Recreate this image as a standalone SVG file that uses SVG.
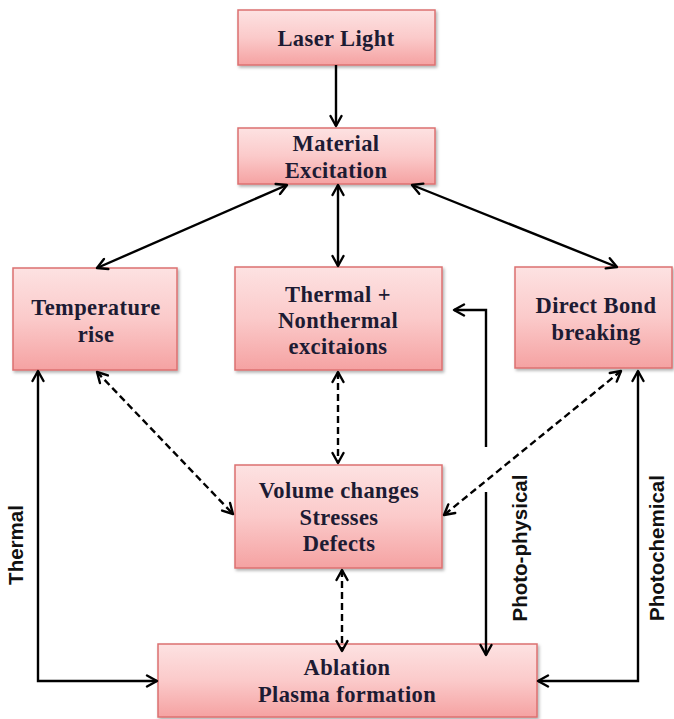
<svg xmlns="http://www.w3.org/2000/svg" width="674" height="719" viewBox="0 0 674 719">
  <defs>
    <linearGradient id="boxFill" x1="0" y1="0" x2="0" y2="1">
      <stop offset="0" stop-color="#fde2e2"/>
      <stop offset="0.5" stop-color="#fbcaca"/>
      <stop offset="1" stop-color="#f5a2a2"/>
    </linearGradient>
    <filter id="shadow" x="-10%" y="-10%" width="125%" height="130%">
      <feDropShadow dx="1.5" dy="2" stdDeviation="1.5" flood-color="#000" flood-opacity="0.3"/>
    </filter>
    <marker id="arr" viewBox="0 0 14 14" refX="12" refY="7" markerWidth="14" markerHeight="14" markerUnits="userSpaceOnUse" orient="auto-start-reverse">
      <path d="M2,1.5 L12,7 L2,12.5" fill="none" stroke="#000" stroke-width="2.4" stroke-linecap="round" stroke-linejoin="round"/>
    </marker>
  </defs>
  <style>
    .box { fill: url(#boxFill); stroke: #dc7070; stroke-width: 1.5; filter: url(#shadow); }
    .lbl { font-family: "Liberation Serif", "Times New Roman", serif; font-weight: bold; font-size: 22.5px; letter-spacing: 0.4px; fill: #1d1b33; text-anchor: middle; }
    .side { font-family: "Liberation Sans", Arial, sans-serif; font-weight: bold; font-size: 20.5px; fill: #111; text-anchor: middle; }
    .ln { fill: none; stroke: #000; stroke-width: 2.4; }
    .dash { stroke-dasharray: 7 4; }
  </style>

  <rect width="674" height="719" fill="#fff"/>

  <g id="laser-light">
    <rect class="box" x="238" y="10" width="197" height="55"/>
    <text class="lbl" x="336" y="46">Laser Light</text>
  </g>
  <g id="material-excitation">
    <rect class="box" x="238" y="128" width="197" height="56"/>
    <text class="lbl" x="336" y="151">Material</text>
    <text class="lbl" x="336" y="178">Excitation</text>
  </g>
  <g id="temperature-rise">
    <rect class="box" x="13" y="268" width="164" height="102"/>
    <text class="lbl" x="96" y="315">Temperature</text>
    <text class="lbl" x="96" y="342">rise</text>
  </g>
  <g id="thermal-nonthermal">
    <rect class="box" x="235" y="267" width="207" height="103"/>
    <text class="lbl" x="338" y="302">Thermal +</text>
    <text class="lbl" x="338" y="328">Nonthermal</text>
    <text class="lbl" x="338" y="354">excitaions</text>
  </g>
  <g id="direct-bond-breaking">
    <rect class="box" x="515" y="267" width="157" height="101"/>
    <text class="lbl" x="596" y="313">Direct Bond</text>
    <text class="lbl" x="596" y="340">breaking</text>
  </g>
  <g id="volume-changes">
    <rect class="box" x="235" y="465" width="207" height="103"/>
    <text class="lbl" x="339" y="498">Volume changes</text>
    <text class="lbl" x="339" y="525">Stresses</text>
    <text class="lbl" x="339" y="551">Defects</text>
  </g>
  <g id="ablation">
    <rect class="box" x="158" y="644" width="379" height="73"/>
    <text class="lbl" x="347" y="675">Ablation</text>
    <text class="lbl" x="347" y="702">Plasma formation</text>
  </g>

  <g id="connectors">
    <!-- solid links -->
    <line class="ln" x1="336" y1="65" x2="336" y2="126" marker-end="url(#arr)"/>
    <line class="ln" x1="287" y1="185" x2="97" y2="268" marker-start="url(#arr)" marker-end="url(#arr)"/>
    <line class="ln" x1="338" y1="185" x2="338" y2="266" marker-start="url(#arr)" marker-end="url(#arr)"/>
    <line class="ln" x1="412" y1="185" x2="617" y2="267" marker-start="url(#arr)" marker-end="url(#arr)"/>
    <!-- dashed links -->
    <line class="ln dash" x1="97" y1="372" x2="233" y2="514" marker-start="url(#arr)" marker-end="url(#arr)"/>
    <line class="ln dash" x1="338" y1="372" x2="338" y2="463" marker-start="url(#arr)" marker-end="url(#arr)"/>
    <line class="ln dash" x1="621" y1="371" x2="444" y2="515" marker-start="url(#arr)" marker-end="url(#arr)"/>
    <line class="ln dash" x1="342" y1="570" x2="342" y2="651" marker-start="url(#arr)" marker-end="url(#arr)"/>
    <!-- thermal path -->
    <polyline class="ln" points="38,371 38,681 157,681" marker-start="url(#arr)" marker-end="url(#arr)"/>
    <!-- photochemical path -->
    <polyline class="ln" points="638,371 638,681 538,681" marker-start="url(#arr)" marker-end="url(#arr)"/>
    <!-- photo-physical path, broken where the dashed link crosses -->
    <polyline class="ln" points="486,447 486,310 454,310" marker-end="url(#arr)"/>
    <line class="ln" x1="486" y1="492" x2="486" y2="655" marker-end="url(#arr)"/>
  </g>

  <g id="path-labels">
    <text class="side" transform="translate(23,545) rotate(-90)">Thermal</text>
    <text class="side" transform="translate(527,548) rotate(-90)">Photo-physical</text>
    <text class="side" transform="translate(664,548) rotate(-90)">Photochemical</text>
  </g>
</svg>
